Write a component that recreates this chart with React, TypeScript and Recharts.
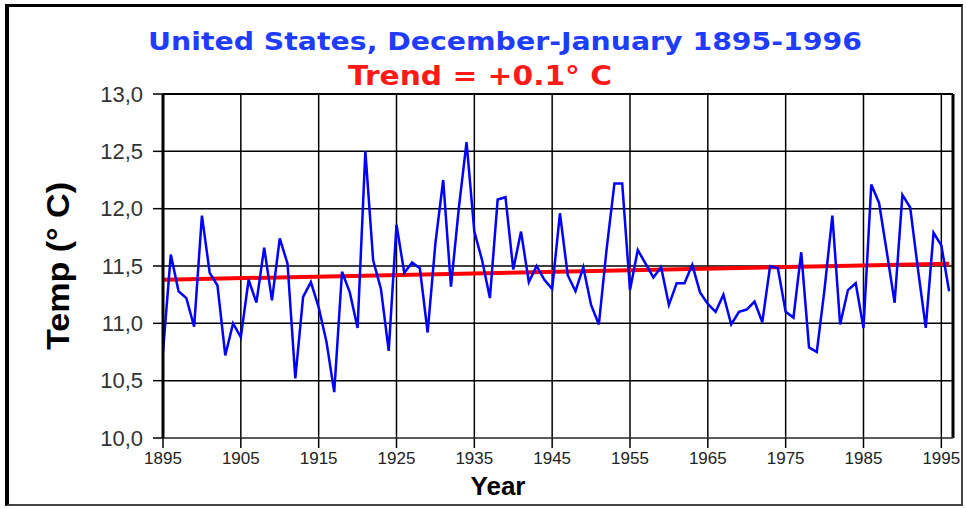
import React from "react";
import {
  LineChart,
  Line,
  XAxis,
  YAxis,
  CartesianGrid,
  ReferenceLine,
} from "recharts";

// Dec-Jan mean temperature, one value per year starting at FIRST_YEAR
const FIRST_YEAR = 1895;
const TEMPS = [
  10.75, 11.6, 11.28, 11.22, 10.97, 11.94, 11.44, 11.33, 10.72, 11.0,
  10.88, 11.38, 11.18, 11.66, 11.2, 11.74, 11.52, 10.52, 11.23, 11.36,
  11.14, 10.84, 10.4, 11.45, 11.27, 10.96, 12.5, 11.55, 11.3, 10.76,
  11.86, 11.44, 11.53, 11.48, 10.92, 11.7, 12.25, 11.32, 12.0, 12.58,
  11.8, 11.55, 11.22, 12.08, 12.1, 11.47, 11.8, 11.36, 11.5, 11.38,
  11.3, 11.96, 11.42, 11.28, 11.49, 11.16, 10.99, 11.65, 12.22, 12.22,
  11.29, 11.64, 11.52, 11.4, 11.49, 11.16, 11.35, 11.35, 11.51, 11.27,
  11.17, 11.1, 11.25, 10.99, 11.1, 11.12, 11.19, 11.01, 11.5, 11.48,
  11.1, 11.05, 11.62, 10.79, 10.75, 11.3, 11.94, 10.99, 11.29, 11.35,
  10.96, 12.21, 12.05, 11.62, 11.18, 12.12, 12.01, 11.47, 10.96, 11.79,
  11.68, 11.28,
];

const TREND_YEARS = [1895, 1996];
const TREND_VALUES = [11.38, 11.52];

const X_TICKS = [1895, 1905, 1915, 1925, 1935, 1945, 1955, 1965, 1975, 1985, 1995];
const Y_TICKS = [10, 10.5, 11, 11.5, 12, 12.5, 13];

const data = TEMPS.map((t, i) => ({ year: FIRST_YEAR + i, temp: t }));
const trendData = TREND_YEARS.map((y, i) => ({ year: y, trend: TREND_VALUES[i] }));

const fmtY = (v: number) => v.toFixed(1).replace(".", ",");

export default function App() {
  return (
    <div
      style={{
        position: "absolute",
        left: 0,
        top: 0,
        width: 966,
        height: 508,
        background: "#fff",
      }}
    >
      <div
        style={{
          position: "absolute",
          left: 5,
          top: 4,
          width: 958,
          height: 502,
          boxSizing: "border-box",
          borderLeft: "4px solid #000",
          borderTop: "3px solid #000",
          borderRight: "2px solid #444",
          borderBottom: "2px solid #444",
        }}
      />
      <LineChart
        width={966}
        height={508}
        data={data}
        margin={{ top: 94, right: 13, bottom: 40, left: 90 }}
        style={{ position: "absolute", left: 0, top: 0 }}
      >
        <CartesianGrid stroke="#000" strokeWidth={1.5} horizontalValues={Y_TICKS} />
        <XAxis
          dataKey="year"
          type="number"
          domain={[1895, 1996.5]}
          ticks={X_TICKS}
          allowDataOverflow
          height={30}
          tickSize={10}
          tickMargin={4}
          axisLine={{ stroke: "#777", strokeWidth: 1 }}
          tickLine={{ stroke: "#000", strokeWidth: 1.5 }}
          tick={{ fill: "#222", fontSize: 17, fontFamily: "Liberation Sans Narrow, Arial Narrow, Liberation Sans, Arial" }}
        />
        <YAxis
          type="number"
          domain={[10, 13]}
          ticks={Y_TICKS}
          width={73}
          tickSize={10}
          tickMargin={10}
          tickFormatter={fmtY}
          axisLine={{ stroke: "#000", strokeWidth: 3 }}
          tickLine={{ stroke: "#000", strokeWidth: 1.5 }}
          tick={{ fill: "#333", fontSize: 22, fontFamily: "Liberation Sans, Arial" }}
        />
        <ReferenceLine x={1996.5} stroke="#000" strokeWidth={3} />
        <ReferenceLine y={13} stroke="#000" strokeWidth={2} />
        <Line
          data={trendData}
          dataKey="trend"
          stroke="#ff0000"
          strokeWidth={4}
          dot={false}
          isAnimationActive={false}
        />
        <Line
          dataKey="temp"
          stroke="#0000ff"
          strokeWidth={2.5}
          dot={false}
          isAnimationActive={false}
        />
      </LineChart>
      <svg
        width={966}
        height={508}
        style={{ position: "absolute", left: 0, top: 0, pointerEvents: "none" }}
      >
        <text
          x={505}
          y={50}
          textAnchor="middle"
          fill="#1f3cff"
          fontSize={25}
          fontWeight="bold"
          fontFamily="DejaVu Sans, sans-serif"
          textLength={714}
          lengthAdjust="spacingAndGlyphs"
        >
          United States, December-January 1895-1996
        </text>
        <text
          x={480}
          y={85}
          textAnchor="middle"
          fill="#ff1a1a"
          fontSize={26}
          fontWeight="bold"
          fontFamily="DejaVu Sans, sans-serif"
          textLength={264}
          lengthAdjust="spacingAndGlyphs"
        >
          Trend = +0.1° C
        </text>
        <text
          x={69}
          y={266}
          transform="rotate(-90 69 266)"
          textAnchor="middle"
          fill="#000"
          fontSize={32}
          fontWeight="bold"
          fontFamily="Liberation Sans, Arial, sans-serif"
          textLength={168}
          lengthAdjust="spacingAndGlyphs"
        >
          Temp (° C)
        </text>
        <text
          x={498}
          y={495}
          textAnchor="middle"
          fill="#000"
          fontSize={26}
          fontWeight="bold"
          fontFamily="Liberation Sans, Arial, sans-serif"
        >
          Year
        </text>
      </svg>
    </div>
  );
}
